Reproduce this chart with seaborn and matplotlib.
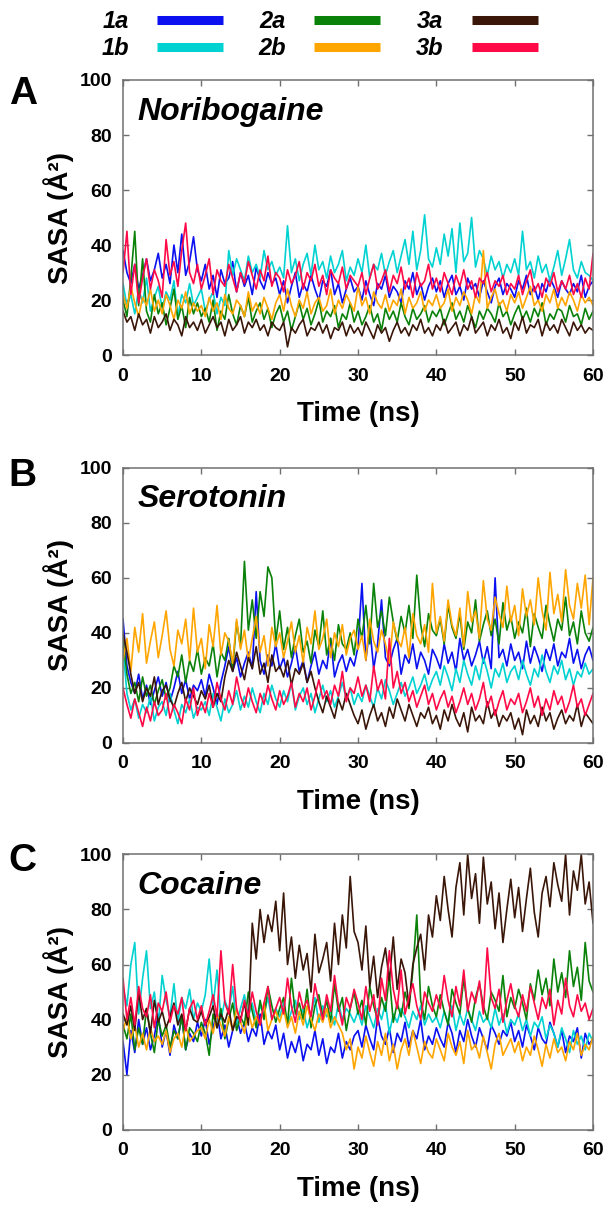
import numpy as np
import pandas as pd
import matplotlib
matplotlib.use("Agg")
import matplotlib.pyplot as plt
from matplotlib.lines import Line2D
import seaborn as sns

# =========================================
# DATA (SASA in A^2, sampled every 0.5 ns from 0 to 60 ns)
# =========================================

SYSTEMS = ['1a', '1b', '2a', '2b', '3a', '3b']
COLORS = ['#0a10f0', '#00d2d2', '#0a820a', '#ffa500', '#3a1608', '#ff0a46']
PANELS = ['A', 'B', 'C']
LIGANDS = ['Noribogaine', 'Serotonin', 'Cocaine']
Y_TICKS = [0, 20, 40, 60, 80, 100]
X_TICKS = [0, 10, 20, 30, 40, 50, 60]

# --- A: Noribogaine ---
A_1a = [38, 30, 26, 33, 24, 29, 35, 27, 31, 37, 28, 33, 26, 40, 30, 44, 29, 34, 43, 31,
        27, 33, 24, 29, 21, 31, 26, 28, 34, 23, 30, 25, 29, 22, 32, 27, 24, 30, 26, 28,
        22, 27, 19, 25, 30, 21, 26, 23, 29, 24, 20, 27, 25, 31, 22, 26, 19, 24, 28, 23,
        25, 20, 27, 22, 18, 26, 24, 29, 21, 25, 23, 19, 27, 24, 30, 22, 26, 20, 25, 28,
        23, 27, 21, 26, 29, 22, 25, 20, 28, 24, 26, 21, 27, 23, 19, 25, 28, 22, 26, 24,
        21, 27, 24, 29, 22, 25, 20, 26, 23, 28, 25, 21, 27, 24, 22, 26, 23, 29, 21, 25, 27]
A_1b = [26, 18, 22, 15, 24, 19, 28, 16, 21, 25, 17, 23, 20, 27, 14, 22, 19, 26, 18, 21,
        24, 16, 20, 23, 15, 21, 18, 38, 29, 35, 31, 27, 36, 30, 33, 28, 38, 31, 34, 29,
        32, 28, 47, 30, 35, 27, 33, 37, 29, 40, 31, 34, 28, 36, 30, 33, 38, 27, 32, 29,
        35, 30, 40, 28, 33, 31, 37, 29, 34, 38, 30, 36, 42, 33, 45, 31, 38, 51, 35, 32,
        39, 33, 44, 36, 46, 30, 48, 34, 37, 50, 32, 38, 35, 29, 36, 31, 34, 28, 33, 30,
        35, 29, 45, 31, 34, 28, 36, 30, 33, 27, 32, 38, 29, 35, 42, 31, 28, 34, 30, 29, 27]
A_2a = [20, 14, 28, 45, 18, 35, 16, 12, 22, 15, 19, 11, 17, 24, 13, 18, 10, 21, 15, 19,
        14, 17, 12, 20, 9, 16, 13, 22, 15, 11, 18, 14, 21, 12, 16, 19, 13, 17, 10, 15,
        18, 12, 16, 9, 14, 19, 13, 17, 11, 15, 20, 12, 16, 14, 18, 10, 15, 13, 19, 12,
        16, 11, 14, 18, 12, 15, 9, 17, 13, 16, 12, 19, 14, 11, 17, 13, 15, 18, 12, 16,
        14, 17, 11, 15, 19, 13, 16, 12, 18, 14, 10, 16, 13, 17, 15, 12, 19, 14, 16, 11,
        15, 18, 13, 16, 12, 17, 14, 19, 11, 15, 13, 17, 16, 12, 18, 14, 15, 11, 17, 13, 16]
A_2b = [22, 17, 25, 19, 14, 21, 18, 24, 16, 20, 15, 22, 18, 13, 20, 17, 23, 15, 19, 16,
        18, 14, 21, 16, 19, 13, 22, 17, 15, 20, 18, 14, 23, 16, 19, 15, 21, 17, 13, 19,
        22, 16, 24, 18, 14, 20, 17, 23, 15, 19, 21, 16, 18, 24, 15, 20, 17, 22, 19, 16,
        25, 18, 21, 15, 23, 19, 17, 22, 16, 20, 18, 24, 15, 21, 17, 19, 23, 16, 20, 18,
        22, 17, 19, 24, 16, 21, 18, 23, 20, 15, 22, 19, 38, 17, 21, 24, 18, 20, 16, 22,
        19, 23, 17, 21, 25, 18, 20, 16, 22, 19, 24, 17, 21, 18, 23, 20, 16, 22, 19, 21, 18]
A_3a = [16, 12, 14, 9, 15, 11, 13, 8, 14, 10, 12, 15, 9, 13, 11, 7, 14, 10, 12, 9,
        13, 8, 11, 14, 10, 12, 7, 13, 9, 11, 14, 8, 12, 10, 13, 9, 11, 7, 12, 10,
        9, 12, 3, 10, 8, 11, 13, 7, 10, 9, 12, 8, 11, 6, 10, 9, 12, 7, 11, 8,
        10, 7, 12, 9, 6, 11, 8, 10, 5, 9, 12, 8, 10, 7, 11, 9, 13, 8, 10, 7,
        11, 9, 13, 8, 10, 12, 7, 11, 9, 14, 8, 10, 12, 7, 11, 9, 13, 8, 10, 6,
        12, 9, 14, 8, 11, 10, 13, 7, 12, 9, 11, 8, 13, 10, 7, 12, 9, 11, 8, 10, 9]
A_3b = [30, 45, 22, 33, 19, 28, 35, 24, 31, 27, 21, 42, 29, 34, 25, 38, 48, 30, 26, 33,
        24, 29, 35, 22, 31, 27, 25, 33, 28, 23, 30, 26, 34, 29, 24, 31, 27, 36, 25, 30,
        28, 23, 31, 26, 29, 34, 24, 30, 27, 33, 25, 29, 22, 31, 28, 26, 32, 24, 29, 27,
        25, 30, 22, 28, 33, 24, 27, 31, 23, 29, 26, 32, 24, 28, 21, 30, 25, 27, 33, 24,
        28, 23, 30, 26, 22, 29, 25, 31, 24, 27, 21, 28, 26, 30, 23, 27, 25, 29, 22, 26,
        24, 29, 22, 27, 31, 23, 26, 21, 28, 25, 30, 23, 27, 24, 29, 22, 26, 21, 28, 24, 37]

# --- B: Serotonin ---
B_1a = [45, 28, 22, 18, 25, 16, 21, 14, 19, 24, 17, 22, 15, 20, 26, 18, 23, 16, 21, 19,
        23, 17, 25, 20, 14, 22, 28, 35, 26, 31, 24, 29, 33, 27, 55, 30, 25, 32, 28, 36,
        27, 31, 24, 29, 35, 26, 30, 22, 28, 33, 25, 30, 27, 38, 24, 29, 32, 26, 31, 28,
        35, 58, 30, 42, 27, 36, 52, 31, 28, 34, 38, 25, 32, 29, 36, 27, 33, 30, 25, 34,
        31, 27, 36, 29, 33, 26, 38, 30, 34, 28, 32, 37, 29, 35, 27, 60, 31, 34, 28, 36,
        30, 33, 27, 37, 29, 35, 31, 26, 34, 30, 36, 28, 33, 31, 38, 29, 34, 27, 32, 35, 30]
B_1b = [35, 18, 12, 16, 9, 14, 11, 17, 8, 13, 15, 10, 18, 12, 7, 14, 11, 16, 9, 13,
        12, 15, 10, 18, 13, 8, 16, 11, 14, 19, 12, 17, 13, 20, 15, 11, 18, 14, 21, 16,
        13, 19, 15, 22, 12, 17, 20, 14, 18, 11, 16, 21, 15, 19, 13, 17, 22, 16, 20, 14,
        18, 15, 21, 17, 13, 20, 16, 23, 19, 14, 18, 22, 17, 20, 24, 18, 21, 25, 19, 23,
        26, 21, 28, 24, 19, 27, 22, 30, 25, 21, 28, 23, 31, 26, 20, 27, 24, 29, 22, 26,
        28, 23, 30, 25, 21, 27, 24, 32, 26, 22, 28, 25, 30, 23, 27, 21, 26, 24, 29, 25, 27]
B_2a = [38, 25, 18, 22, 15, 24, 17, 21, 14, 19, 23, 16, 20, 28, 24, 32, 22, 30, 26, 34,
        25, 31, 28, 36, 24, 33, 30, 38, 27, 44, 35, 66, 41, 52, 38, 55, 46, 64, 60, 37,
        48, 34, 42, 31, 39, 45, 33, 37, 29, 41, 35, 48, 32, 38, 30, 43, 36, 34, 40, 32,
        45, 38, 50, 36, 58, 42, 48, 39, 53, 44, 37, 46, 40, 50, 38, 61, 43, 35, 47, 41,
        39, 45, 36, 50, 42, 38, 47, 34, 44, 40, 52, 37, 43, 48, 39, 45, 36, 51, 41, 46,
        38, 44, 40, 49, 35, 47, 42, 38, 50, 43, 37, 45, 41, 53, 39, 44, 36, 48, 40, 37, 42]
B_2b = [30, 38, 26, 42, 33, 47, 29, 37, 44, 31, 39, 48, 34, 28, 41, 36, 45, 30, 49, 33,
        38, 27, 43, 35, 50, 32, 40, 37, 29, 45, 34, 41, 30, 38, 46, 33, 39, 28, 42, 35,
        40, 31, 37, 44, 33, 39, 29, 42, 36, 48, 34, 38, 45, 31, 40, 35, 43, 32, 38, 41,
        34, 39, 30, 45, 37, 33, 41, 36, 29, 44, 38, 35, 42, 31, 47, 39, 36, 43, 33, 58,
        40, 46, 37, 52, 43, 39, 49, 35, 55, 44, 48, 38, 59, 45, 41, 53, 47, 42, 57, 44,
        50, 39, 56, 46, 52, 43, 60, 48, 41, 62, 47, 54, 44, 63, 50, 45, 58, 49, 61, 43, 60]
B_3a = [40, 33, 25, 18, 22, 15, 20, 17, 24, 14, 19, 21, 16, 13, 18, 22, 15, 20, 17, 14,
        19, 16, 21, 13, 18, 15, 24, 30, 26, 33, 28, 23, 31, 27, 35, 25, 29, 22, 32, 26,
        28, 24, 30, 21, 27, 25, 29, 22, 26, 20, 15, 11, 17, 13, 9, 16, 12, 18, 14, 10,
        7, 12, 5, 10, 14, 8, 11, 6, 13, 9, 16, 12, 8, 14, 10, 6, 11, 9, 13, 7,
        10, 5, 12, 8, 14, 9, 6, 11, 4, 13, 8, 10, 7, 15, 9, 12, 6, 10, 8, 11,
        5, 9, 3, 12, 7, 10, 6, 13, 8, 11, 5, 9, 12, 7, 10, 8, 14, 6, 11, 9, 7]
B_3b = [20, 14, 9, 16, 11, 6, 13, 8, 15, 10, 12, 18, 9, 14, 11, 7, 16, 12, 20, 10,
        15, 11, 18, 13, 22, 16, 12, 19, 14, 24, 17, 13, 20, 15, 11, 18, 14, 21, 16, 12,
        19, 14, 17, 22, 13, 18, 15, 20, 12, 17, 23, 16, 19, 14, 21, 17, 26, 15, 20, 18,
        24, 17, 21, 15, 28, 19, 23, 16, 38, 20, 26, 18, 22, 15, 19, 13, 17, 21, 14, 18,
        12, 16, 19, 13, 17, 11, 15, 20, 14, 18, 12, 16, 22, 13, 17, 10, 15, 19, 12, 16,
        14, 18, 11, 15, 20, 13, 17, 10, 16, 12, 19, 14, 17, 11, 15, 21, 13, 16, 10, 14, 18]

# --- C: Cocaine ---
C_1a = [32, 20, 36, 28, 40, 31, 37, 29, 34, 42, 30, 36, 27, 38, 33, 41, 29, 35, 32, 39,
        34, 40, 31, 37, 43, 33, 38, 30, 36, 41, 35, 39, 32, 37, 34, 42, 31, 36, 33, 38,
        29, 35, 26, 32, 28, 34, 25, 31, 29, 36, 27, 33, 24, 30, 28, 35, 26, 32, 29, 34,
        36, 30, 38, 33, 29, 41, 34, 31, 37, 28, 35, 32, 39, 30, 36, 33, 40, 29, 34, 31,
        37, 33, 30, 39, 35, 28, 36, 32, 40, 34, 30, 37, 33, 29, 38, 35, 31, 36, 34, 39,
        32, 36, 30, 38, 34, 29, 37, 33, 31, 39, 35, 30, 36, 28, 34, 32, 37, 26, 35, 31, 33]
C_1b = [52, 45, 60, 68, 42, 55, 65, 44, 50, 38, 56, 47, 41, 53, 39, 48, 44, 51, 40, 46,
        43, 49, 62, 45, 58, 40, 47, 43, 52, 38, 44, 49, 41, 46, 39, 45, 42, 48, 40, 44,
        41, 46, 38, 43, 47, 40, 44, 37, 42, 48, 39, 45, 41, 43, 38, 46, 40, 44, 42, 39,
        43, 38, 45, 41, 37, 44, 40, 46, 35, 42, 39, 44, 41, 37, 43, 40, 45, 38, 42, 39,
        41, 37, 43, 39, 45, 36, 42, 38, 44, 40, 36, 43, 39, 41, 37, 44, 38, 42, 35, 40,
        38, 42, 36, 40, 34, 39, 37, 41, 33, 38, 35, 30, 37, 33, 28, 36, 31, 34, 29, 35, 32]
C_2a = [38, 33, 42, 29, 37, 31, 44, 35, 28, 40, 34, 38, 30, 36, 33, 41, 29, 37, 35, 32,
        39, 35, 27, 42, 37, 44, 33, 40, 46, 36, 41, 38, 50, 43, 37, 47, 40, 52, 45, 39,
        44, 48, 38, 55, 42, 46, 40, 51, 37, 45, 49, 41, 47, 39, 53, 43, 48, 36, 44, 50,
        42, 47, 38, 52, 45, 40, 48, 43, 56, 39, 46, 41, 50, 44, 58, 78, 47, 40, 52, 45,
        41, 49, 43, 38, 51, 46, 42, 55, 44, 39, 48, 53, 45, 40, 50, 47, 43, 56, 41, 48,
        44, 51, 46, 40, 53, 47, 58, 49, 55, 45, 62, 50, 57, 48, 65, 52, 59, 47, 68, 54, 50]
C_2b = [36, 41, 33, 38, 30, 35, 29, 37, 32, 34, 31, 36, 28, 33, 35, 30, 38, 32, 34, 36,
        37, 33, 40, 35, 42, 38, 34, 41, 36, 44, 39, 35, 43, 37, 41, 38, 46, 36, 40, 43,
        39, 44, 37, 41, 35, 43, 38, 45, 40, 36, 42, 39, 44, 37, 41, 38, 35, 29, 33, 22,
        30, 26, 34, 28, 23, 32, 27, 35, 25, 31, 22, 29, 33, 27, 36, 30, 24, 32, 28, 26,
        33, 29, 25, 35, 30, 27, 32, 24, 36, 29, 31, 26, 34, 28, 22, 31, 35, 27, 30, 33,
        28, 32, 25, 30, 27, 34, 29, 23, 31, 26, 33, 28, 30, 25, 32, 29, 35, 27, 31, 29, 34]
C_3a = [42, 38, 45, 36, 50, 40, 44, 35, 47, 39, 43, 37, 41, 46, 38, 42, 36, 44, 40, 39,
        43, 38, 41, 45, 37, 42, 39, 44, 36, 41, 40, 46, 38, 75, 62, 80, 68, 78, 72, 83,
        65, 86, 60, 70, 55, 67, 58, 64, 50, 71, 57, 62, 68, 54, 75, 60, 78, 66, 92, 72,
        68, 58, 74, 52, 63, 48, 59, 66, 54, 70, 51, 62, 57, 45, 60, 66, 71, 58, 78, 70,
        85, 76, 92, 80, 70, 88, 97, 78, 100, 84, 93, 75, 99, 82, 90, 73, 86, 68, 80, 91,
        77, 88, 72, 84, 95, 79, 70, 86, 92, 81, 97, 89, 83, 100, 78, 94, 87, 100, 82, 90, 75]
C_3b = [55, 40, 48, 38, 52, 44, 41, 49, 37, 46, 43, 50, 39, 45, 42, 48, 36, 44, 47, 40,
        45, 38, 43, 49, 41, 65, 46, 42, 60, 44, 39, 47, 41, 50, 43, 38, 46, 52, 40, 44,
        48, 42, 55, 45, 39, 50, 44, 47, 41, 53, 46, 40, 49, 43, 56, 45, 38, 48, 44, 51,
        46, 40, 52, 43, 49, 38, 55, 47, 65, 51, 44, 58, 42, 48, 53, 45, 40, 50, 46, 43,
        49, 44, 56, 47, 41, 52, 45, 58, 43, 50, 46, 54, 42, 66, 48, 44, 51, 39, 47, 53,
        45, 41, 49, 43, 52, 46, 40, 48, 44, 51, 38, 47, 42, 55, 45, 41, 49, 43, 46, 40, 44]

PANEL_DATA = [
    [A_1a, A_1b, A_2a, A_2b, A_3a, A_3b],
    [B_1a, B_1b, B_2a, B_2b, B_3a, B_3b],
    [C_1a, C_1b, C_2a, C_2b, C_3a, C_3b],
]

# =========================================
# STYLE
# =========================================

sns.set_theme(style="ticks")
plt.rcParams['font.family'] = ['Liberation Sans', 'DejaVu Sans']
plt.rcParams['font.weight'] = 'bold'
plt.rcParams['text.color'] = 'black'
plt.rcParams['axes.labelcolor'] = 'black'

SPINE_COLOR = '#707070'
PALETTE = dict(zip(SYSTEMS, COLORS))

fig = plt.figure(figsize=(6.12, 12.12), dpi=100)

# axes boxes in figure fraction: left, bottom, width, height
AX_LEFT, AX_WIDTH, AX_HEIGHT = 0.201, 0.768, 0.227
AX_BOTTOMS = [0.707, 0.387, 0.068]
LETTER_Y = [1 - 94 / 1212, 1 - 476 / 1212, 1 - 861 / 1212]

for letter, ligand, series, bottom, ly in zip(PANELS, LIGANDS, PANEL_DATA, AX_BOTTOMS, LETTER_Y):
    ax = fig.add_axes([AX_LEFT, bottom, AX_WIDTH, AX_HEIGHT])

    frames = []
    for name, vals in zip(SYSTEMS, series):
        frames.append(pd.DataFrame({
            'time': np.linspace(0, 60, len(vals)),
            'sasa': vals,
            'system': name,
        }))
    df = pd.concat(frames, ignore_index=True)

    sns.lineplot(data=df, x='time', y='sasa', hue='system', hue_order=SYSTEMS,
                 palette=PALETTE, estimator=None, sort=False, linewidth=1.2,
                 legend=False, ax=ax)

    ax.set_xlim(0, 60)
    ax.set_ylim(0, 100)
    ax.set_xticks(X_TICKS)
    ax.set_yticks(Y_TICKS)
    ax.tick_params(direction='in', top=True, right=True, length=4, width=1,
                   color=SPINE_COLOR, labelcolor='black', labelsize=14)
    ax.tick_params(axis='x', pad=9)
    ax.tick_params(axis='y', pad=8)
    for lab in ax.get_xticklabels() + ax.get_yticklabels():
        lab.set_fontweight('bold')
    for sp in ax.spines.values():
        sp.set_color(SPINE_COLOR)
        sp.set_linewidth(1.1)

    ax.set_xlabel('Time (ns)', fontsize=20, fontweight='bold', labelpad=12)
    ax.set_ylabel('SASA (Å²)', fontsize=20, fontweight='bold', labelpad=4)

    ax.text(0.03, 0.885, ligand, transform=ax.transAxes, fontsize=23,
            fontweight='bold', fontstyle='italic', va='center', ha='left')
    fig.text(0.037, ly, letter, fontsize=28, fontweight='bold',
             va='center', ha='center')

# =========================================
# LEGEND (label left of line)
# =========================================

handles = [Line2D([0], [0], color=c, lw=6.5, solid_capstyle='butt') for c in COLORS]
fig.legend(handles, SYSTEMS, ncol=3, loc='upper center', bbox_to_anchor=(0.522, 1.009),
           markerfirst=False, frameon=False, handlelength=2.8, handletextpad=1.2,
           columnspacing=1.5, labelspacing=0.15,
           prop={'size': 17, 'weight': 'bold', 'style': 'italic'})

plt.savefig('out.png', dpi=100)
